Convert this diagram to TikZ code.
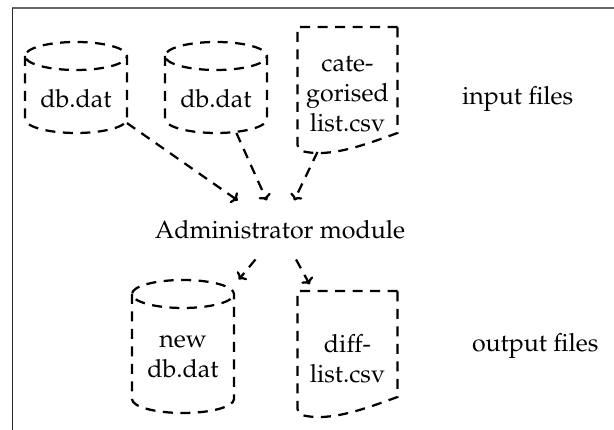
\documentclass[tikz,border=0pt]{standalone}
\usepackage[T1]{fontenc}
\renewcommand{\rmdefault}{ppl}
\usetikzlibrary{calc,arrows.meta}
\begin{document}
\begin{tikzpicture}[x=0.4pt,y=-0.4pt,
  every node/.style={inner sep=0pt, outer sep=0pt, font=\fontsize{10}{12}\selectfont},
  filebox/.style={rectangle, minimum width=40.8pt, anchor=base},
  outline/.style={line width=0.9pt, dash pattern=on 4pt off 3pt},
  conn/.style={line width=0.9pt, dash pattern=on 4pt off 3pt, -{To[length=2.4pt,width=5.2pt]}},
]
\useasboundingbox (0,0) rectangle (614,430);
\draw[black!60, line width=0.8pt] (12,8.5) -- (614,8.5);
\draw[black!85, line width=0.4pt] (12.5,8.5) -- (12.5,430);

\node[filebox, text height=26.4pt, text depth=10pt] (c1) at (76,108) {db.dat};
\node[filebox, text height=26.4pt, text depth=10pt] (c2) at (216,108) {db.dat};
\node[filebox, minimum width=40pt, text height=18pt, text depth=32pt] (d1) at (347.5,72)
  {\begin{tabular}[t]{@{}c@{}}cate-\\gorised\\list.csv\end{tabular}};
\node[anchor=center, minimum height=23.6pt] (adm) at (280,230) {Administrator module};
\node[filebox, text height=27.2pt, text depth=26pt] (nd) at (183,348)
  {\begin{tabular}[t]{@{}c@{}}new\\db.dat\end{tabular}};
\node[filebox, minimum width=40pt, text height=24.8pt, text depth=25.6pt] (df) at (347.5,353)
  {\begin{tabular}[t]{@{}c@{}}diff-\\list.csv\end{tabular}};
\node[anchor=base west] (inl) at (462,105) {input files};
\node[anchor=base west] (outl) at (472,352) {output files};

\foreach \n in {c1,c2,nd} {
  \draw[outline] ([yshift=-5.6pt]\n.north west) -- ([yshift=5.6pt]\n.south west)
    arc[start angle=180, end angle=360, x radius=20.4pt, y radius=5.6pt]
    -- ([yshift=-5.6pt]\n.north east)
    arc[start angle=0, end angle=180, x radius=20.4pt, y radius=5.6pt]
    arc[start angle=180, end angle=360, x radius=20.4pt, y radius=5.6pt];
}
\foreach \n in {d1,df} {
  \draw[outline] (\n.north east) -- (\n.north west) [rounded corners=2pt] -- ($(\n.north west)+(0,123)$) [sharp corners]
    .. controls ($(\n.north west)+(32,131)$) and ($(\n.north west)+(67,118)$) .. ($(\n.north east)+(0,106)$) -- cycle;
}

\draw[conn] (c1) -- (adm);
\draw[conn] (c2) -- (adm);
\draw[conn] (d1) -- (adm);
\draw[conn, shorten >=3pt] (adm) -- (nd);
\draw[conn, shorten >=3pt] (adm) -- (df);
\end{tikzpicture}
\end{document}
